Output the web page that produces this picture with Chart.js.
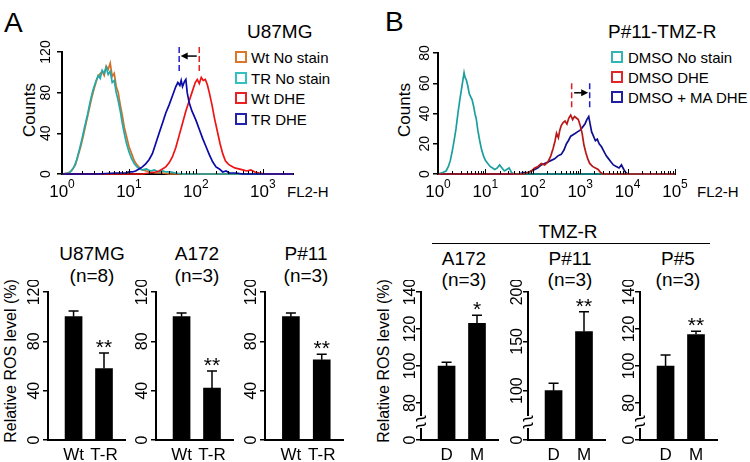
<!DOCTYPE html>
<html>
<head>
<meta charset="utf-8">
<script src="https://cdn.jsdelivr.net/npm/chart.js@4.4.1/dist/chart.umd.min.js"></script>
<style>
  html, body { margin: 0; padding: 0; background: #fff; }
  #fig { position: relative; width: 750px; height: 462px; overflow: hidden; font-family: "Liberation Sans", Arial, sans-serif; color: #000; }
  #fig canvas { position: absolute; }
  .t { position: absolute; white-space: nowrap; line-height: 1; }
  .c { transform: translateX(-50%); }
  .rot { transform: translate(-50%, -50%) rotate(-90deg); }
  .box { position: absolute; width: 12px; height: 12px; border: 2px solid; box-sizing: border-box; background: #fff; }
</style>
</head>
<body>
<div id="fig">
  <div class="t" style="left:4px;top:9px;font-size:28px">A</div>
  <div class="t" style="left:385px;top:8px;font-size:28px">B</div>

  <div class="t" style="left:247px;top:22px;font-size:19px">U87MG</div>
  <div class="box" style="left:235px;top:51px;border-color:#d9782b"></div>
  <div class="t" style="left:251px;top:50px;font-size:15px">Wt No stain</div>
  <div class="box" style="left:235px;top:72px;border-color:#33c0c0"></div>
  <div class="t" style="left:251px;top:71px;font-size:15px">TR No stain</div>
  <div class="box" style="left:235px;top:92px;border-color:#e82222"></div>
  <div class="t" style="left:251px;top:91px;font-size:15px">Wt DHE</div>
  <div class="box" style="left:235px;top:113px;border-color:#2222aa"></div>
  <div class="t" style="left:251px;top:112px;font-size:15px">TR DHE</div>

  <div class="t" style="left:608px;top:22px;font-size:19px">P#11-TMZ-R</div>
  <div class="box" style="left:611px;top:51px;border-color:#33b5b5"></div>
  <div class="t" style="left:628px;top:50px;font-size:15px">DMSO No stain</div>
  <div class="box" style="left:611px;top:71px;border-color:#e02828"></div>
  <div class="t" style="left:628px;top:70px;font-size:15px">DMSO DHE</div>
  <div class="box" style="left:611px;top:91px;border-color:#2020a0"></div>
  <div class="t" style="left:628px;top:90px;font-size:15px">DMSO + MA DHE</div>

  <div class="t rot" style="left:29px;top:110px;font-size:17px">Counts</div>
  <div class="t rot" style="left:404px;top:110px;font-size:17px">Counts</div>
  <div class="t" style="left:287px;top:184px;font-size:15px">FL2-H</div>
  <div class="t" style="left:697px;top:184px;font-size:15px">FL2-H</div>

  <div class="t rot" style="left:11px;top:361px;font-size:16px">Relative ROS level (%)</div>
  <div class="t rot" style="left:384px;top:361px;font-size:16px">Relative ROS level (%)</div>

  <div class="t c" style="left:92px;top:244px;font-size:19px">U87MG</div>
  <div class="t c" style="left:92px;top:266px;font-size:19px">(n=8)</div>
  <div class="t c" style="left:197px;top:244px;font-size:19px">A172</div>
  <div class="t c" style="left:197px;top:266px;font-size:19px">(n=3)</div>
  <div class="t c" style="left:306px;top:244px;font-size:19px">P#11</div>
  <div class="t c" style="left:306px;top:266px;font-size:19px">(n=3)</div>

  <div class="t c" style="left:568px;top:222px;font-size:19px">TMZ-R</div>
  <div style="position:absolute;left:432px;top:242.5px;width:278px;height:1.5px;background:#000"></div>
  <div class="t c" style="left:464px;top:249px;font-size:19px">A172</div>
  <div class="t c" style="left:464px;top:270px;font-size:19px">(n=3)</div>
  <div class="t c" style="left:570px;top:249px;font-size:19px">P#11</div>
  <div class="t c" style="left:570px;top:270px;font-size:19px">(n=3)</div>
  <div class="t c" style="left:678px;top:249px;font-size:19px">P#5</div>
  <div class="t c" style="left:678px;top:270px;font-size:19px">(n=3)</div>

  <canvas id="histA"></canvas>
  <canvas id="histB"></canvas>
  <canvas id="barA1"></canvas>
  <canvas id="barA2"></canvas>
  <canvas id="barA3"></canvas>
  <canvas id="barB1"></canvas>
  <canvas id="barB2"></canvas>
  <canvas id="barB3"></canvas>
</div>
<script>
// histogram A (x = log10 FL2-H, y = counts)
const wtNoStain = [[0,0],[0.08,1],[0.12,2],[0.16,5],[0.2,9],[0.24,18],[0.28,27],[0.32,38],[0.36,50],[0.4,62],[0.44,74],[0.48,84],[0.52,93],[0.56,98],[0.6,101],[0.63,97],[0.66,106],[0.69,103],[0.72,109],[0.75,96],[0.78,99],[0.81,86],[0.84,80],[0.87,68],[0.9,58],[0.93,46],[0.96,38],[1.0,27],[1.04,20],[1.08,13],[1.12,9],[1.16,6],[1.2,4],[1.26,3],[1.32,2],[1.4,1],[1.5,1],[1.6,0],[3.45,0]]
const trNoStain = [[0,0],[0.1,1],[0.14,3],[0.18,7],[0.22,14],[0.26,24],[0.3,35],[0.34,47],[0.38,58],[0.42,71],[0.46,82],[0.5,90],[0.54,97],[0.57,94],[0.6,102],[0.63,99],[0.66,105],[0.69,98],[0.72,101],[0.75,90],[0.78,92],[0.81,80],[0.84,72],[0.87,62],[0.9,50],[0.93,40],[0.96,31],[1.0,22],[1.04,15],[1.08,10],[1.12,7],[1.16,5],[1.2,4],[1.26,5],[1.32,3],[1.38,4],[1.44,2],[1.5,3],[1.56,2],[1.62,2],[1.7,1],[1.8,0],[3.45,0]]
const wtDHE = [[0,0],[1.2,0],[1.3,1],[1.4,2],[1.45,3],[1.5,5],[1.55,7],[1.6,11],[1.65,17],[1.7,26],[1.75,38],[1.8,50],[1.85,62],[1.9,72],[1.95,82],[1.99,90],[2.02,93],[2.05,89],[2.08,95],[2.11,92],[2.14,93],[2.17,88],[2.2,80],[2.24,68],[2.28,54],[2.32,42],[2.36,30],[2.4,20],[2.44,13],[2.48,10],[2.52,8],[2.58,6],[2.64,5],[2.7,4],[2.76,3],[2.82,4],[2.88,2],[2.95,1],[3.05,0],[3.45,0]]
const trDHE = [[0,0],[0.5,0],[0.8,1],[0.95,1],[1.0,2],[1.05,2],[1.1,3],[1.15,5],[1.2,7],[1.25,10],[1.3,14],[1.35,20],[1.4,30],[1.45,40],[1.5,50],[1.55,60],[1.6,68],[1.65,77],[1.7,86],[1.73,90],[1.76,87],[1.78,92],[1.8,86],[1.83,91],[1.85,93],[1.87,80],[1.9,70],[1.94,62],[2.0,53],[2.05,44],[2.1,35],[2.15,27],[2.2,19],[2.25,12],[2.3,7],[2.35,5],[2.4,2],[2.45,3],[2.5,1],[2.6,1],[2.7,0],[3.45,0]]
const decadesA = [0, 1, 2, 3]

// histogram B
const dmsoNoStain = [[0,0],[0.1,1],[0.17,2],[0.22,5],[0.26,9],[0.3,15],[0.34,22],[0.38,30],[0.42,40],[0.46,49],[0.5,57],[0.53,63],[0.55,67],[0.57,64],[0.6,62],[0.63,58],[0.66,53],[0.69,51],[0.72,49],[0.75,45],[0.78,40],[0.81,36],[0.84,29],[0.88,22],[0.92,16],[0.96,12],[1.0,9],[1.05,7],[1.1,5],[1.15,4],[1.2,3],[1.25,4],[1.3,6],[1.35,4],[1.4,2],[1.45,3],[1.5,4],[1.55,1],[1.6,0],[5,0]]
const dmsoDHE = [[0,0],[1.8,0],[1.9,1],[1.97,2],[2.04,4],[2.11,5],[2.18,7],[2.25,6],[2.32,8],[2.38,12],[2.43,17],[2.47,22],[2.5,27],[2.54,24],[2.57,29],[2.6,32],[2.64,34],[2.68,35],[2.72,33],[2.76,37],[2.8,39],[2.84,36],[2.88,38],[2.92,37],[2.96,36],[3.0,32],[3.04,27],[3.08,19],[3.12,14],[3.16,10],[3.2,7],[3.26,5],[3.32,4],[3.38,3],[3.43,1],[3.48,0],[5,0]]
const dmsoMaDHE = [[0,0],[1.7,0],[1.8,1],[1.9,1],[1.97,2],[2.04,3],[2.1,4],[2.18,6],[2.25,7],[2.32,8],[2.39,9],[2.46,10],[2.53,12],[2.6,13],[2.66,16],[2.71,20],[2.75,22],[2.8,25],[2.85,26],[2.9,27],[2.95,28],[3.0,29],[3.05,31],[3.1,33],[3.14,36],[3.18,38],[3.21,33],[3.24,28],[3.28,25],[3.32,22],[3.36,23],[3.4,20],[3.45,18],[3.5,15],[3.55,12],[3.6,10],[3.65,8],[3.7,6],[3.76,5],[3.82,4],[3.87,6],[3.92,3],[3.96,1],[4.0,0],[5,0]]
const decadesB = [0, 1, 2, 3, 4, 5]

// bar panels
const groupsA = ['Wt', 'T-R']
const groupsB = ['D', 'M']
const u87Mean = [100, 58], u87Err = [4.5, 12.5], u87Stars = ['', '**']
const a172Mean = [100, 42], a172Err = [3, 14], a172Stars = ['', '**']
const p11Mean = [100, 65], p11Err = [3, 4.5], p11Stars = ['', '**']
const rA172Mean = [100, 123], rA172Err = [2, 4.5], rA172Stars = ['', '*']
const rP11Mean = [100, 160], rP11Err = [7.5, 20], rP11Stars = ['', '**']
const rP5Mean = [100, 117], rP5Err = [6, 1.8], rP5Stars = ['', '**']

const FONT = '"Liberation Sans", Arial, sans-serif'
Chart.defaults.font.family = FONT

function place(canvas, area, pad) {
  const [l, t, r, b] = area
  canvas.width = r - l + pad.left + pad.right
  canvas.height = b - t + pad.top + pad.bottom
  canvas.style.left = (l - pad.left) + 'px'
  canvas.style.top = (t - pad.top) + 'px'
}

const axisLine = { display: true, color: '#000', width: 2 }

function yScale(min, max, step) {
  return {
    type: 'linear', min, max, beginAtZero: false,
    ticks: { display: false, stepSize: step },
    grid: { display: true, drawOnChartArea: false, drawTicks: true, tickLength: 5, color: '#000', lineWidth: 1.5 },
    border: axisLine,
    afterFit: s => { s.width = 0 }
  }
}

function xScale(min, max) {
  return {
    type: 'linear', min, max, offset: false,
    ticks: { display: false },
    grid: { display: false, offset: false },
    border: axisLine,
    afterFit: s => { s.height = 0 }
  }
}

function rotTicks(ctx, chart, px, gap, fmt) {
  const { chartArea: a, scales: { y } } = chart
  ctx.font = px + 'px ' + FONT
  ctx.textAlign = 'center'
  ctx.textBaseline = 'middle'
  y.ticks.forEach(t => {
    ctx.save()
    ctx.translate(a.left - gap, y.getPixelForValue(t.value))
    ctx.rotate(-Math.PI / 2)
    ctx.fillText(fmt(t.value), 0, 0)
    ctx.restore()
  })
}

function drawBreak(ctx, ax, cy) {
  ctx.fillStyle = '#fff'
  ctx.fillRect(ax - 2, cy - 6, 4, 12)
  ctx.strokeStyle = '#000'
  ctx.lineWidth = 1.3
  for (const dy of [-3.5, 3.5]) {
    const yy = cy + dy
    ctx.beginPath()
    ctx.moveTo(ax - 4, yy + 3)
    ctx.bezierCurveTo(ax - 7, yy - 2, ax + 7, yy + 2, ax + 4, yy - 3)
    ctx.stroke()
  }
  ctx.fillStyle = '#000'
}

function barOverlay(labels, means, errs, stars, gap, fmt, broken) {
  return {
    id: 'barOverlay',
    afterDraw(chart) {
      const { ctx, chartArea: a, scales: { x, y } } = chart
      ctx.save()
      ctx.fillStyle = '#000'
      ctx.strokeStyle = '#000'
      ctx.lineWidth = 1.5
      means.forEach((m, i) => {
        const px = x.getPixelForValue(i)
        const top = y.getPixelForValue(m + errs[i])
        ctx.beginPath()
        ctx.moveTo(px, y.getPixelForValue(m))
        ctx.lineTo(px, top)
        ctx.moveTo(px - 5, top)
        ctx.lineTo(px + 5, top)
        ctx.stroke()
        if (stars[i]) {
          ctx.font = '21px ' + FONT
          ctx.textAlign = 'center'
          ctx.textBaseline = 'alphabetic'
          ctx.fillText(stars[i], px, top + 1)
        }
      })
      ctx.font = '17px ' + FONT
      ctx.textAlign = 'center'
      ctx.textBaseline = 'alphabetic'
      labels.forEach((t, i) => ctx.fillText(t, x.getPixelForValue(i), a.bottom + 20))
      rotTicks(ctx, chart, 16, gap, fmt)
      if (broken) drawBreak(ctx, a.left, a.bottom - 18)
      ctx.restore()
    }
  }
}

function barChart(id, area, labels, means, errs, stars, yMin, yMax, step, gap, broken) {
  const cv = document.getElementById(id)
  const pad = { left: 30, right: 8, top: 12, bottom: 22 }
  place(cv, area, pad)
  const fmt = v => (v === yMin ? '0' : String(v))
  return new Chart(cv, {
    type: 'bar',
    data: {
      datasets: [{
        data: means.map((v, i) => ({ x: i, y: v })),
        backgroundColor: '#000',
        borderWidth: 0,
        barThickness: 17
      }]
    },
    options: {
      responsive: false,
      animation: false,
      devicePixelRatio: 1,
      layout: { padding: pad },
      plugins: { legend: { display: false }, tooltip: { enabled: false } },
      scales: { x: xScale(-0.84, 1.69), y: yScale(yMin, yMax, step) }
    },
    plugins: [barOverlay(labels, means, errs, stars, gap, fmt, broken)]
  })
}

function histOverlay(decades, gap, tickPx, marks) {
  return {
    id: 'histOverlay',
    afterDraw(chart) {
      const { ctx, chartArea: a, scales: { x, y } } = chart
      ctx.save()
      ctx.fillStyle = '#000'
      ctx.strokeStyle = '#000'
      // log minor ticks on the x axis
      ctx.lineWidth = 1
      decades.forEach(d => {
        for (let k = 1; k <= 9; k++) {
          const v = d + Math.log10(k)
          if (v > x.max) break
          const px = Math.round(x.getPixelForValue(v)) + 0.5
          ctx.beginPath()
          ctx.moveTo(px, a.bottom)
          ctx.lineTo(px, a.bottom - (k === 1 ? 5 : 3))
          ctx.stroke()
        }
      })
      // decade labels 10^n
      ctx.textBaseline = 'alphabetic'
      ctx.textAlign = 'left'
      decades.forEach(d => {
        ctx.font = '17px ' + FONT
        const w1 = ctx.measureText('10').width
        ctx.font = '12px ' + FONT
        const w2 = ctx.measureText(String(d)).width
        const left = x.getPixelForValue(d) - (w1 + w2) / 2
        ctx.font = '17px ' + FONT
        ctx.fillText('10', left, a.bottom + 23)
        ctx.font = '12px ' + FONT
        ctx.fillText(String(d), left + w1, a.bottom + 14)
      })
      rotTicks(ctx, chart, tickPx, gap, v => String(v))
      // dashed peak markers and shift arrow
      ctx.lineWidth = 1.5
      ctx.setLineDash([6, 3])
      marks.lines.forEach(([pos, col]) => {
        const px = x.getPixelForValue(pos)
        ctx.strokeStyle = col
        ctx.beginPath()
        ctx.moveTo(px, y.getPixelForValue(marks.hi))
        ctx.lineTo(px, y.getPixelForValue(marks.lo))
        ctx.stroke()
      })
      ctx.setLineDash([])
      const [from, to, at] = marks.arrow
      const x0 = x.getPixelForValue(from), x1 = x.getPixelForValue(to)
      const dir = Math.sign(x1 - x0)
      const ay = y.getPixelForValue(at)
      const tail = x0 + dir * 2.5, tip = x1 - dir * 1.5
      ctx.strokeStyle = '#000'
      ctx.beginPath()
      ctx.moveTo(tail, ay)
      ctx.lineTo(tip - dir * 5, ay)
      ctx.stroke()
      ctx.beginPath()
      ctx.moveTo(tip, ay)
      ctx.lineTo(tip - dir * 7, ay - 3.5)
      ctx.lineTo(tip - dir * 7, ay + 3.5)
      ctx.closePath()
      ctx.fill()
      ctx.restore()
    }
  }
}

function curve(pts, color, order) {
  return {
    data: pts.map(([x, y]) => ({ x, y })),
    borderColor: color,
    borderWidth: 1.7,
    pointRadius: 0,
    fill: false,
    tension: 0,
    clip: false,
    order
  }
}

function histChart(id, area, pad, datasets, xMax, yMax, step, decades, gap, tickPx, marks) {
  const cv = document.getElementById(id)
  place(cv, area, pad)
  return new Chart(cv, {
    type: 'line',
    data: { datasets },
    options: {
      responsive: false,
      animation: false,
      devicePixelRatio: 1,
      layout: { padding: pad },
      plugins: { legend: { display: false }, tooltip: { enabled: false } },
      scales: { x: xScale(0, xMax), y: yScale(0, yMax, step) }
    },
    plugins: [histOverlay(decades, gap, tickPx, marks)]
  })
}

histChart('histA', [62, 52, 293, 174], { left: 40, right: 14, top: 14, bottom: 28 }, [
  curve(trDHE, '#0a0aa8', 0),
  curve(wtDHE, '#ee1414', 1),
  curve(trNoStain, '#20aaaa', 2),
  curve(wtNoStain, '#d07028', 3)
], 3.45, 120, 40, decadesA, 15.5, 14, {
  lines: [[2.05, '#e82020'], [1.75, '#2020c8']], lo: 100, hi: 125, arrow: [2.05, 1.75, 116]
})

histChart('histB', [438, 53, 675, 174], { left: 38, right: 14, top: 14, bottom: 28 }, [
  curve(dmsoDHE, '#b81818', 0),
  curve(dmsoNoStain, '#1c9e9e', 1),
  curve(dmsoMaDHE, '#10108f', 2)
], 5, 80, 20, decadesB, 12.5, 14, {
  lines: [[2.82, '#e02020'], [3.2, '#2020c8']], lo: 43.5, hi: 60, arrow: [2.82, 3.2, 53.7]
})

barChart('barA1', [48, 292, 125, 440], groupsA, u87Mean, u87Err, u87Stars, 0, 120, 40, 13, false)
barChart('barA2', [156, 292, 233, 440], groupsA, a172Mean, a172Err, a172Stars, 0, 120, 40, 13, false)
barChart('barA3', [265, 292, 343, 440], groupsA, p11Mean, p11Err, p11Stars, 0, 120, 40, 13, false)
barChart('barB1', [421, 292, 498, 440], groupsB, rA172Mean, rA172Err, rA172Stars, 60, 140, 20, 10, true)
barChart('barB2', [528, 292, 605, 440], groupsB, rP11Mean, rP11Err, rP11Stars, 50, 200, 50, 10, true)
barChart('barB3', [640, 292, 717, 440], groupsB, rP5Mean, rP5Err, rP5Stars, 60, 140, 20, 10, true)
</script>
</body>
</html>
